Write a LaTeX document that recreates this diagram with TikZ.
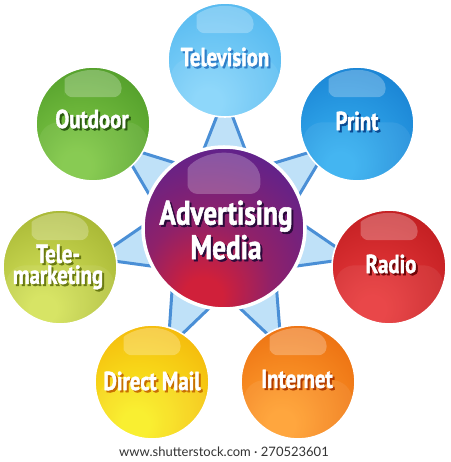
\documentclass[tikz,border=0pt]{standalone}
\usepackage{fontspec}
\usetikzlibrary{calc}
\newfontfamily\labfont[FakeStretch=0.8, FakeBold=1.6]{PT Sans Bold}
\newfontfamily\footfont{Lato}
\colorlet{ic}{white}\colorlet{oc}{black}
\pgfdeclareradialshading[ic,oc]{ballshade}{\pgfpoint{-8bp}{-20bp}}{%
  color(0bp)=(ic); color(6bp)=(ic); color(56bp)=(oc); color(80bp)=(oc)}
\definecolor{cred}{HTML}{D0203A}
\definecolor{cpur}{HTML}{5A2290}
\definecolor{cdark}{HTML}{3C1478}
\pgfdeclareradialshading{censhade}{\pgfpoint{-7bp}{-23bp}}{%
  color(0bp)=(cred); color(6bp)=(cred); color(20bp)=(cred!45!cpur); color(40bp)=(cpur); color(62bp)=(cdark); color(80bp)=(cdark)}
\definecolor{edgeblue}{HTML}{4A8FD6}
\definecolor{linkfill}{HTML}{BFE1F8}
\definecolor{shc}{HTML}{000000}
\newcommand{\sh}[1]{\rlap{\kern2pt\raisebox{-2pt}{\textcolor{shc}{#1}}}#1}
\tikzset{
  ballnode/.style={circle, inner sep=0pt, minimum size=#1, shading=ballshade, draw=white, line width=1.6pt},
  lbltext/.style={text=white, font=\labfont\fontsize{26}{21}\selectfont, align=center, inner sep=0pt},
  bigtext/.style={text=white, font=\labfont\fontsize{34}{30}\selectfont, align=center, inner sep=0pt},
  link/.style={fill=linkfill, draw=edgeblue, line width=3pt, line join=round}
}
% name, x, y, r, outer hex, inner hex
\newcommand{\mball}[6]{%
  \definecolor{ic}{HTML}{#6}\definecolor{oc}{HTML}{#5}%
  \node[ballnode=#4*2pt] (#1) at (#2,#3) {};
  \begin{scope}
    \clip (#2,#3) circle (#4-0.8);
    \fill[white, fill opacity=0.07, rounded corners=#4*0.35pt]
      ($(#2,#3)+(-0.95*#4,-1.1*#4)$) rectangle ($(#2,#3)+(0.95*#4,0.03*#4)$);
  \end{scope}
  \fill[white, fill opacity=0.26]
    ($(#2,#3)+(-0.5*#4,0.64*#4)$) arc[start angle=180, end angle=0, x radius=0.5*#4, y radius=0.31*#4]
    [rounded corners=0.14*#4pt] -- ($(#2,#3)+(0.5*#4,0.47*#4)$) -- ($(#2,#3)+(-0.5*#4,0.47*#4)$) -- cycle;
}
% link from centre to outer node
\newcommand{\mlink}[1]{%
  \path ($(cen)!132pt!(#1)$) coordinate (#1a)
        ($(cen)!51pt!90:(#1)$) coordinate (#1b)
        ($(cen)!51pt!-90:(#1)$) coordinate (#1c);
  \filldraw[link] (#1b) -- (#1a) -- (#1c);
}
\begin{document}
\begin{tikzpicture}[x=1pt,y=1pt]
\useasboundingbox (0,0) rectangle (450,462);
\fill[white] (0,0) rectangle (450,462);
\coordinate (cen) at (224,234);
\coordinate (tv) at (225,402);
\coordinate (pr) at (357,338);
\coordinate (od) at (93,338);
\coordinate (ra) at (389,195);
\coordinate (tm) at (60,195);
\coordinate (dm) at (152,80);
\coordinate (in) at (298,80);
\mlink{tv}\mlink{pr}\mlink{od}\mlink{ra}\mlink{tm}\mlink{dm}\mlink{in}
\mball{tvball}{225}{402}{57}{3AAAEA}{86D4FA}
\mball{prball}{357}{338}{57}{0A6AC4}{36B0F0}
\mball{odball}{93}{338}{57}{3A881C}{80C846}
\mball{raball}{389}{195}{57}{AC0E12}{E83A3C}
\mball{tmball}{60}{195}{57}{8E9E20}{D4E25A}
\mball{dmball}{152}{80}{57}{F29C00}{F9EE22}
\mball{inball}{298}{80}{57}{E25600}{FFA030}
\node[circle, inner sep=0pt, minimum size=162pt, shading=censhade, draw=white, line width=3.5pt] (cenball) at (224,234) {};
\fill[white, fill opacity=0.24]
  ($(224,234)+(-0.45*81,0.6*81)$) arc[start angle=180, end angle=0, x radius=0.45*81, y radius=0.33*81]
  [rounded corners=10pt] -- ($(224,234)+(0.45*81,0.42*81)$) -- ($(224,234)+(-0.45*81,0.42*81)$) -- cycle;
\definecolor{shc}{HTML}{2F7FC8}
\node[lbltext] (tvl) at (225,404) {\sh{Television}};
\definecolor{shc}{HTML}{0A4A92}
\node[lbltext] (prl) at (357,340) {\sh{Print}};
\definecolor{shc}{HTML}{2A5A10}
\node[lbltext] (odl) at (92,342) {\sh{Outdoor}};
\definecolor{shc}{HTML}{700608}
\node[lbltext] (ral) at (391,197) {\sh{Radio}};
\definecolor{shc}{HTML}{6A7A12}
\node[lbltext] (tml) at (58,194) {\sh{Tele-}\\\sh{marketing}};
\definecolor{shc}{HTML}{C87000}
\node[lbltext] (dml) at (152,80) {\sh{Direct Mail}};
\definecolor{shc}{HTML}{B03C00}
\node[lbltext] (inl) at (297,82) {\sh{Internet}};
\definecolor{shc}{HTML}{2A0A3A}
\node[bigtext] (cenl) at (226,231) {\sh{Advertising}\\\sh{Media}};
\node[font=\footfont\fontsize{13}{14}\selectfont, text=black!80, inner sep=0pt] (foot) at (224,10) {www.shutterstock.com · 270523601};
\end{tikzpicture}
\end{document}
